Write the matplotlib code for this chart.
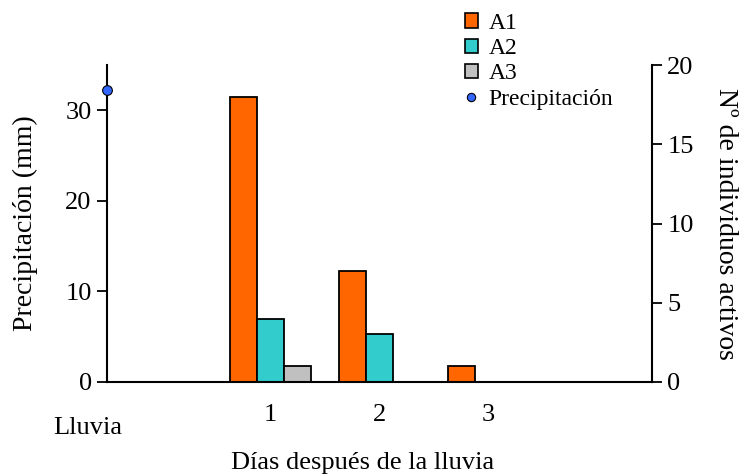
import matplotlib
matplotlib.use("Agg")
import matplotlib.pyplot as plt
from matplotlib.patches import Patch
from matplotlib.lines import Line2D

plt.rcParams['font.family'] = ['Liberation Serif', 'DejaVu Serif']

dias = [1, 2, 3]
dia_labels = ["1", "2", "3"]
a1 = [18, 7, 1]
a2 = [4, 3, 0]
a3 = [1, 0, 0]
precip_x = [-0.5]
precip = [32.2]

fig = plt.figure(figsize=(7.45, 4.76), dpi=100)
ax1 = fig.add_axes([107/745, 1-382/476, (652-107)/745, (382-65)/476])
ax2 = ax1.twinx()

w = 0.25
c1, c2, c3 = '#FF6600', '#33CCCC', '#C0C0C0'
ax2.bar([d - w for d in dias], a1, width=w, color=c1, edgecolor='black', linewidth=1.3, zorder=3)
ax2.bar(dias, a2, width=w, color=c2, edgecolor='black', linewidth=1.3, zorder=3)
ax2.bar([d + w for d in dias], a3, width=w, color=c3, edgecolor='black', linewidth=1.3, zorder=3)

ax1.set_zorder(ax2.get_zorder() + 1)
ax1.patch.set_visible(False)
ax1.plot(precip_x, precip, 'o', color='#3366FF', markeredgecolor='black',
         markeredgewidth=0.8, markersize=7, clip_on=False, zorder=5)

ax1.set_xlim(-0.5, 4.5)
ax1.set_ylim(0, 35)
ax2.set_ylim(0, 20)
ax1.set_yticks([0, 10, 20, 30])
ax2.set_yticks([0, 5, 10, 15, 20])
ax1.set_xticks(dias)
ax1.set_xticklabels(dia_labels)

for ax in (ax1, ax2):
    ax.spines['top'].set_visible(False)
    for s in ax.spines.values():
        s.set_linewidth(1.5)
ax1.spines['right'].set_visible(False)
ax2.spines['left'].set_visible(False)
ax2.spines['bottom'].set_visible(False)

ax1.tick_params(axis='y', direction='out', length=7, width=1.3, labelsize=19, pad=4)
ax2.tick_params(axis='y', direction='out', length=7, width=1.3, labelsize=19, pad=4)
ax1.tick_params(axis='x', length=0, labelsize=19, pad=16)

ax1.set_ylabel("Precipitación (mm)", fontsize=20, labelpad=20)
ax2.set_ylabel("Nº de individuos activos", fontsize=20, rotation=-90, labelpad=32)

fig.text(88/745, 1-428/476, "Lluvia", fontsize=19, ha='center', va='center')
fig.text(363/745, 1-463/476, "Días después de la lluvia", fontsize=19, ha='center', va='center')

handles = [Patch(facecolor=c1, edgecolor='black', linewidth=1.2),
           Patch(facecolor=c2, edgecolor='black', linewidth=1.2),
           Patch(facecolor=c3, edgecolor='black', linewidth=1.2),
           Line2D([], [], marker='o', linestyle='none', color='#3366FF',
                  markeredgecolor='black', markeredgewidth=0.8, markersize=6)]
labels = ["A1", "A2", "A3", "Precipitación"]
fig.legend(handles, labels, loc='upper left', bbox_to_anchor=(453/745, 1-1/476),
           frameon=False, fontsize=17, handlelength=0.55, handleheight=0.55,
           handletextpad=0.45, labelspacing=0.18, borderpad=0)

fig.savefig("out.png", dpi=100)
